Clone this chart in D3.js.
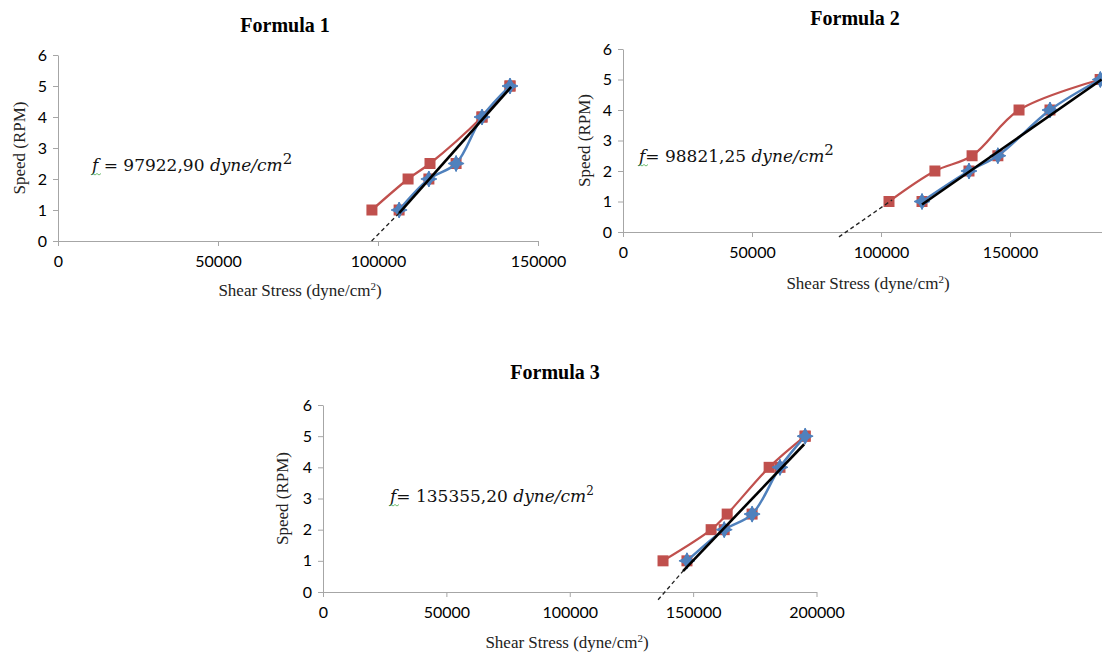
<!DOCTYPE html>
<html>
<head>
<meta charset="utf-8">
<script src="https://cdn.jsdelivr.net/npm/d3@7"></script>
<style>
  body { margin: 0; background: #fff; }
  svg { display: block; }
</style>
</head>
<body>
<svg id="chart" width="1102" height="653"></svg>
<script>
// data
var speeds = [1, 2, 2.5, 4, 5];
var yTicks = [0, 1, 2, 3, 4, 5, 6];
var xTicks1 = [0, 50000, 100000, 150000];
var xTicks2 = [0, 50000, 100000, 150000]; // 200000 falls outside the picture
var xTicks3 = [0, 50000, 100000, 150000, 200000];

var red1 = [98100, 109400, 116250, 132500, 141250];
var blue1 = [106600, 115900, 124400, 132500, 141250];
var trend1 = [[106600, 0.9], [141600, 4.97]];
var dash1 = [[98000, 0], [106600, 0.9]];

var red2 = [103100, 120900, 135300, 153500, 185000];
var blue2 = [115900, 134100, 145300, 165500, 185000];
var trend2 = [[115900, 0.9], [185500, 5]];
var dash2 = [[83700, -0.16], [104300, 1.05]];

var red3 = [137800, 157300, 163800, 180800, 195400];
var blue3 = [147500, 162600, 173900, 185200, 195400];
var trend3 = [[145900, 0.67], [195000, 4.74]];
var dash3 = [[135800, -0.25], [145900, 0.67]];

var titles = ["Formula 1", "Formula 2", "Formula 3"];
var fValues = ["97922,90", "98821,25", "135355,20"];

var svg = d3.select("#chart");
svg.append("rect").attr("width", 1102).attr("height", 653).attr("fill", "#fff");

var panels = [
  { title: titles[0], f: fValues[0], sep: " = ", xMax: 150000, xTicks: xTicks1, supSize: 15,
    left: 58, right: 538, top: 55, bottom: 241,
    titleX: 285, titleY: 32, fX: 92, fY: 171, yLabX: 25, xLabX: 300, xLabY: 296,
    red: red1, blue: blue1, trend: trend1, dash: dash1 },
  { title: titles[1], f: fValues[1], sep: "= ", xMax: 200000, xTicks: xTicks2, supSize: 15,
    left: 623, right: 1139, top: 49, bottom: 232,
    titleX: 855, titleY: 25, fX: 639, fY: 162, yLabX: 590, xLabX: 868, xLabY: 289,
    red: red2, blue: blue2, trend: trend2, dash: dash2 },
  { title: titles[2], f: fValues[2], sep: "= ", xMax: 200000, xTicks: xTicks3, supSize: 12,
    left: 323, right: 816.5, top: 405, bottom: 592,
    titleX: 555, titleY: 379, fX: 390, fY: 502, yLabX: 288, xLabX: 567, xLabY: 648,
    red: red3, blue: blue3, trend: trend3, dash: dash3 }
];

var redC = "#C0504D", blueC = "#4F81BD", axisC = "#a6a6a6";

panels.forEach(drawPanel);

function drawPanel(p) {
  var x = d3.scaleLinear().domain([0, p.xMax]).range([p.left, p.right]);
  var y = d3.scaleLinear().domain([0, 6]).range([p.bottom, p.top]);
  var g = svg.append("g");

  // axes
  var ya = g.append("g").attr("transform", "translate(" + p.left + ",0)")
    .call(d3.axisLeft(y).tickValues(yTicks).tickSize(5).tickSizeOuter(0).tickPadding(6).tickFormat(d3.format("d")));
  var xa = g.append("g").attr("transform", "translate(0," + p.bottom + ")")
    .call(d3.axisBottom(x).tickValues(p.xTicks).tickSize(5).tickSizeOuter(0).tickPadding(10).tickFormat(d3.format("d")));
  [ya, xa].forEach(function(a) {
    a.select(".domain").attr("stroke", axisC);
    a.selectAll(".tick line").attr("stroke", axisC);
    a.selectAll("text").attr("fill", "#000").style("font-family", "Lato, 'Open Sans', sans-serif").style("font-size", "16px");
  });

  // titles and labels
  g.append("text").attr("x", p.titleX).attr("y", p.titleY).attr("text-anchor", "middle")
    .style("font-family", "'Liberation Serif', serif").style("font-weight", "bold").style("font-size", "20px")
    .text(p.title);
  g.append("text").attr("transform", "translate(" + p.yLabX + "," + ((p.top + p.bottom) / 2) + ") rotate(-90)")
    .attr("text-anchor", "middle").attr("fill", "#222")
    .style("font-family", "'Liberation Serif', serif").style("font-size", "17px")
    .text("Speed (RPM)");
  var xl = g.append("text").attr("x", p.xLabX).attr("y", p.xLabY).attr("text-anchor", "middle").attr("fill", "#222")
    .style("font-family", "'Liberation Serif', serif").style("font-size", "17px");
  xl.append("tspan").text("Shear Stress (dyne/cm");
  xl.append("tspan").attr("dy", -6).style("font-size", "11px").text("2");
  xl.append("tspan").attr("dy", 6).text(")");

  // formula text
  var ft = g.append("text").attr("x", p.fX).attr("y", p.fY)
    .style("font-family", "'DejaVu Serif', serif").style("font-size", "17px").attr("fill", "#111");
  ft.append("tspan").style("font-style", "italic").text("f");
  ft.append("tspan").text(p.sep + p.f + " ");
  ft.append("tspan").style("font-style", "italic").text("dyne/cm");
  ft.append("tspan").attr("dy", -7).style("font-size", p.supSize + "px").text("2");
  g.append("path")
    .attr("d", "M" + (p.fX - 1) + "," + (p.fY + 4) + "l2,-1.5l2,1.5l2,-1.5l2,1.5l2,-1.5")
    .attr("fill", "none").attr("stroke", "#4caf50").attr("stroke-width", 0.8);

  var smooth = d3.line().x(function(d) { return x(d[0]); }).y(function(d) { return y(d[1]); })
    .curve(d3.curveCatmullRom.alpha(0.5));
  var straight = d3.line().x(function(d) { return x(d[0]); }).y(function(d) { return y(d[1]); });

  var redPts = p.red.map(function(v, i) { return [v, speeds[i]]; });
  var bluePts = p.blue.map(function(v, i) { return [v, speeds[i]]; });

  // red series
  g.append("path").attr("d", smooth(redPts)).attr("fill", "none").attr("stroke", redC).attr("stroke-width", 2.25);
  g.selectAll(".sq").data(redPts.concat(bluePts)).enter().append("rect")
    .attr("x", function(d) { return x(d[0]) - 5.5; }).attr("y", function(d) { return y(d[1]) - 5.5; })
    .attr("width", 11).attr("height", 11).attr("fill", redC);

  // blue series
  g.append("path").attr("d", smooth(bluePts)).attr("fill", "none").attr("stroke", blueC).attr("stroke-width", 2.5);
  var star = "M0,-8L2.5,-2.5L8,0L2.5,2.5L0,8L-2.5,2.5L-8,0L-2.5,-2.5Z";
  g.selectAll(".st").data(bluePts).enter().append("g")
    .attr("transform", function(d) { return "translate(" + x(d[0]) + "," + y(d[1]) + ")"; })
    .each(function() {
      var m = d3.select(this);
      m.append("path").attr("d", star).attr("fill", blueC).attr("stroke", blueC).attr("stroke-width", 1);
      m.append("path").attr("d", d3.symbol().type(d3.symbolDiamond).size(80)()).attr("fill", blueC);
    });

  // trend line
  g.append("path").attr("d", straight(p.dash)).attr("fill", "none").attr("stroke", "#222")
    .attr("stroke-width", 1.3).attr("stroke-dasharray", "4,3");
  g.append("path").attr("d", straight(p.trend)).attr("fill", "none").attr("stroke", "#000").attr("stroke-width", 2.6);
}
</script>
</body>
</html>
